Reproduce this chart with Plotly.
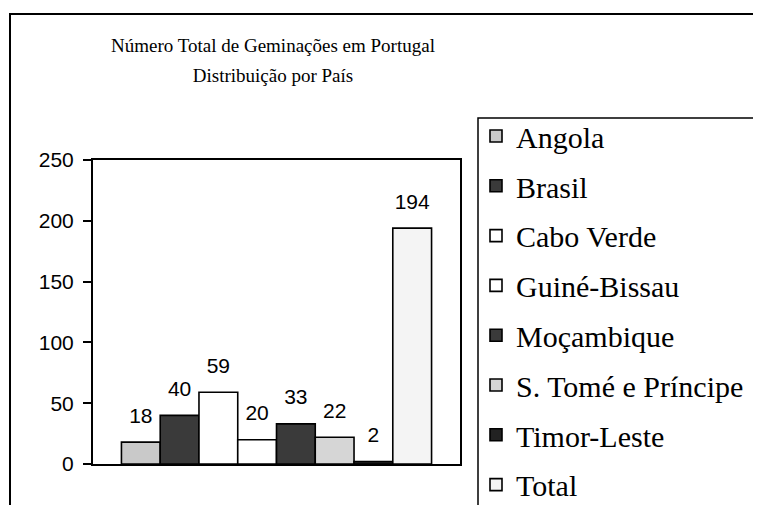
import plotly.graph_objects as go

# ---- data ----
countries = ["Angola", "Brasil", "Cabo Verde", "Guiné-Bissau", "Moçambique",
             "S. Tomé e Príncipe", "Timor-Leste", "Total"]
values = [18, 40, 59, 20, 33, 22, 2, 194]
category = [""]
bar_colors = ["#c9c9c9", "#3a3a3a", "#ffffff", "#ffffff", "#3a3a3a",
              "#d6d6d6", "#222222", "#f4f4f4"]
y_ticks = [0, 50, 100, 150, 200, 250]

title_lines = ["Número Total de Geminações em Portugal", "Distribuição por País"]

OFF = 8  # page body margin of the html page
W, H = 761 - OFF, 540
ML, MR, MT = 93 - OFF, 301, 160 - OFF
MB = H - (464 - OFF)
PW = W - ML - MR
PH = H - MT - MB


def sx(px):
    """screen x pixel -> paper x"""
    return (px - OFF - ML) / PW


def sy(py):
    """screen y pixel -> paper y"""
    return (H - MB - (py - OFF)) / PH


fig = go.Figure()

for i, (name, val, col) in enumerate(zip(countries, values, bar_colors)):
    fig.add_trace(go.Bar(
        x=category, y=[val], name=name,
        marker=dict(color=col, line=dict(color="black", width=1.6)),
        legendgroup=f"g{i}", offsetgroup=str(i),
        hoverinfo="skip",
    ))

for i, (name, val) in enumerate(zip(countries, values)):
    fig.add_trace(go.Scatter(
        x=category, y=[val], mode="markers+text", text=[str(val)],
        textposition="top center",
        textfont=dict(family="Liberation Sans", size=21, color="black"),
        marker=dict(size=21, opacity=0),
        showlegend=False, offsetgroup=str(i), cliponaxis=False,
        hoverinfo="skip",
    ))

title_text = "<br>".join(
    f"<span style='font-size:19px'>{t}</span>" for t in title_lines)

fig.update_layout(
    width=W, height=H,
    margin=dict(l=ML, r=MR, t=MT, b=MB, autoexpand=False),
    paper_bgcolor="white", plot_bgcolor="white",
    barmode="group", bargap=0.155, bargroupgap=0,
    scattermode="group", scattergap=0.155,
    showlegend=True,
    title=dict(
        text=title_text,
        font=dict(family="Liberation Serif", size=23, color="black"),
        x=sx(273), xref="paper", xanchor="center",
        y=1 - (52 - OFF) / H, yref="container", yanchor="middle",
    ),
    legend=dict(
        x=sx(476), y=sy(110),
        xanchor="left", yanchor="top",
        borderwidth=0, bgcolor="rgba(0,0,0,0)",
        font=dict(family="Liberation Serif", size=30, color="black"),
        tracegroupgap=7.8,
        maxheight=800,
    ),
    xaxis=dict(
        type="category", range=[-0.5, 0.5],
        showticklabels=False, ticks="",
        showline=True, linecolor="black", linewidth=2, mirror=True,
        showgrid=False, zeroline=False,
    ),
    yaxis=dict(
        range=[0, 250], tickvals=y_ticks,
        ticks="outside", ticklen=8, tickwidth=1.5, tickcolor="black",
        ticklabelstandoff=5,
        showline=True, linecolor="black", linewidth=2, mirror=True,
        showgrid=False, zeroline=False,
        tickfont=dict(family="Liberation Sans", size=21, color="black"),
    ),
    shapes=[
        # outer chart frame
        dict(type="rect", xref="paper", yref="paper",
             x0=sx(10), x1=sx(820), y0=sy(600), y1=sy(14),
             line=dict(color="black", width=2), fillcolor="rgba(0,0,0,0)",
             layer="below"),
        # legend frame
        dict(type="rect", xref="paper", yref="paper",
             x0=sx(478), x1=sx(757), y0=sy(600), y1=sy(118),
             line=dict(color="black", width=1.5), fillcolor="rgba(0,0,0,0)",
             layer="below"),
    ],
)

fig.write_html("out.html")
